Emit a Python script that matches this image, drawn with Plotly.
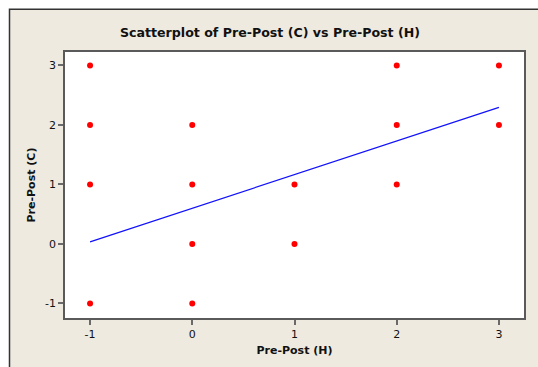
import numpy as np
import plotly.graph_objects as go

# Observed pairs (H change, C change)
pre_post_h = [-1, -1, -1, -1, 0, 0, 0, 0, 1, 1, 2, 2, 2, 3, 3]
pre_post_c = [3, 2, 1, -1, 2, 1, 0, -1, 1, 0, 3, 2, 1, 3, 2]

# Least-squares fit line coefficients
fit_intercept = 0.60
fit_slope = 0.565

tick_vals = [-1, 0, 1, 2, 3]
tick_text = ["-1", "0", "1", "2", "3"]

W, H = 538, 367
L, R, T, B = 65, 14, 52, 45
pw, ph = W - L - R, H - T - B

fit_x = np.array([min(pre_post_h), max(pre_post_h)], dtype=float)
fit_y = fit_intercept + fit_slope * fit_x

fig = go.Figure()
fig.add_trace(go.Scatter(
    x=fit_x, y=fit_y, mode="lines",
    line=dict(color="#1010ff", width=1.2), hoverinfo="skip",
))
fig.add_trace(go.Scatter(
    x=pre_post_h, y=pre_post_c, mode="markers",
    marker=dict(color="#ff0000", size=6, line=dict(width=0)),
))

def px_x(p):
    return (p - L) / pw

def px_y(p):
    return (H - B - p) / ph

# beige frame behind the plot, then a white data area
fig.add_shape(type="rect", xref="paper", yref="paper",
              x0=px_x(9.5), x1=px_x(545), y0=px_y(8.5), y1=px_y(375),
              fillcolor="#eeeae0", line=dict(color="#333333", width=1.5),
              layer="below")
fig.add_shape(type="rect", xref="paper", yref="paper",
              x0=0, x1=1, y0=0, y1=1,
              fillcolor="white", line=dict(width=0), layer="below")

axis_common = dict(
    showgrid=False, zeroline=False, showline=True, mirror=True,
    linecolor="#5a5a5a", linewidth=1.5,
    ticks="outside", ticklen=5, tickcolor="#6a6a6a", tickwidth=1.5,
    tickvals=tick_vals, ticktext=tick_text,
    tickfont=dict(family="DejaVu Sans", size=11, color="#111111"),
)

fig.update_layout(
    width=W, height=H,
    margin=dict(l=L, r=R, t=T, b=B),
    paper_bgcolor="white", plot_bgcolor="white",
    showlegend=False,
    title=dict(text="<b>Scatterplot of Pre-Post (C) vs Pre-Post (H)</b>",
               x=270 / W, xanchor="center", y=1 - 33 / H, yanchor="middle",
               font=dict(family="DejaVu Sans", size=12.6, color="#111111")),
    xaxis=dict(range=[-1.245, 3.245],
               title=dict(text="<b>Pre-Post (H)</b>", standoff=6,
                          font=dict(family="DejaVu Sans", size=11, color="#111111")),
               **axis_common),
    yaxis=dict(range=[-1.244, 3.226],
               title=dict(text="<b>Pre-Post (C)</b>", standoff=7,
                          font=dict(family="DejaVu Sans", size=11, color="#111111")),
               **axis_common),
)

fig.write_html("out.html")
